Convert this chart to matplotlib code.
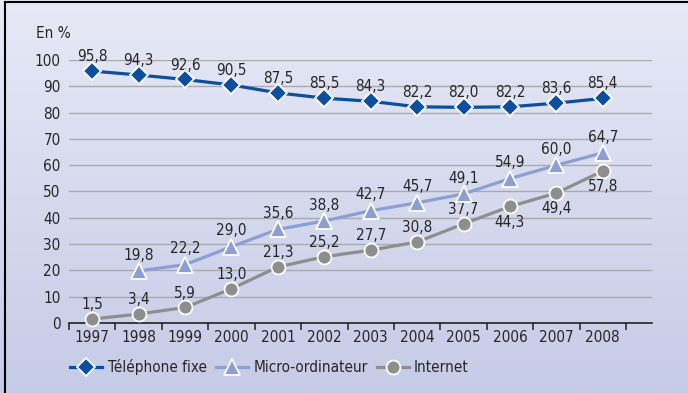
import numpy as np
import matplotlib
matplotlib.use('Agg')
import matplotlib.pyplot as plt
from matplotlib.lines import Line2D

plt.rcParams['font.family'] = ['DejaVu Sans']
plt.rcParams['font.stretch'] = 'condensed'

years = ['1997', '1998', '1999', '2000', '2001', '2002', '2003', '2004',
         '2005', '2006', '2007', '2008']
telephone = [95.8, 94.3, 92.6, 90.5, 87.5, 85.5, 84.3, 82.2, 82.0, 82.2, 83.6, 85.4]
micro_years = years[1:]
micro = [19.8, 22.2, 29.0, 35.6, 38.8, 42.7, 45.7, 49.1, 54.9, 60.0, 64.7]
internet = [1.5, 3.4, 5.9, 13.0, 21.3, 25.2, 27.7, 30.8, 37.7, 44.3, 49.4, 57.8]
# internet labels sit below the marker from 2006 on
internet_below = [False]*9 + [True]*3

c_tel, c_micro, c_net = '#0d4f9c', '#8c9fd5', '#8e8e8e'
c_txt = '#262626'
fs = 11

fig = plt.figure(figsize=(6.88, 3.93), dpi=100)

# vertical gradient background
bg = fig.add_axes([0, 0, 1, 1], zorder=-10)
top = np.array([231, 233, 246]) / 255.
bot = np.array([198, 203, 231]) / 255.
t = np.linspace(0, 1, 256)[:, None, None]
grad = top*(1-t) + bot*t
bg.imshow(np.repeat(grad, 2, axis=1), aspect='auto', extent=[0, 1, 0, 1])
bg.axis('off')
fig.add_artist(Line2D([5/688, 5/688], [0, 1-2/393], color='black', lw=1.5))
fig.add_artist(Line2D([5/688, 1], [1-2/393, 1-2/393], color='black', lw=1.5))

ax = fig.add_axes([69/688, 1-323/393, (652-69)/688, (323-60)/393])
ax.patch.set_visible(False)
x = np.arange(len(years))
xm = x[1:]

ax.set_xlim(-0.5, 12.06)
ax.set_ylim(0, 100)
for v in range(10, 101, 10):
    ax.axhline(v, color='#a9a9b0', lw=1.0, zorder=1)

ax.plot(x, telephone, color=c_tel, lw=2.3, marker='D', ms=9,
        mfc=c_tel, mec='white', mew=1.3, zorder=5, clip_on=False,
        label='Téléphone fixe')
ax.plot(xm, micro, color=c_micro, lw=2.3, marker='^', ms=11,
        mfc=c_micro, mec='white', mew=1.3, zorder=4, clip_on=False,
        label='Micro-ordinateur')
ax.plot(x, internet, color=c_net, lw=2.3, marker='o', ms=10,
        mfc=c_net, mec='white', mew=1.3, zorder=4, clip_on=False,
        label='Internet')

def fmt(v):
    return ('%.1f' % v).replace('.', ',')

for xi, v in zip(x, telephone):
    ax.annotate(fmt(v), (xi, v), xytext=(0, 5), textcoords='offset points',
                ha='center', va='bottom', fontsize=fs, color=c_txt)
for xi, v in zip(xm, micro):
    ax.annotate(fmt(v), (xi, v), xytext=(0, 6), textcoords='offset points',
                ha='center', va='bottom', fontsize=fs, color=c_txt)
for xi, v, below in zip(x, internet, internet_below):
    off = -6 if below else 5
    ax.annotate(fmt(v), (xi, v), xytext=(0, off), textcoords='offset points',
                ha='center', va='top' if below else 'bottom',
                fontsize=fs, color=c_txt)

for s in ['top', 'right', 'left']:
    ax.spines[s].set_visible(False)
ax.spines['bottom'].set_color('#222222')
ax.spines['bottom'].set_linewidth(1.2)

ax.set_yticks(range(0, 101, 10))
ax.set_yticklabels([str(v) for v in range(0, 101, 10)], fontsize=fs)
ax.tick_params(axis='y', length=0, pad=6, colors=c_txt)

ax.set_xticks(np.arange(-0.5, 12, 1))
ax.set_xticklabels([])
ax.set_xticks(x, minor=True)
ax.set_xticklabels(years, minor=True, fontsize=fs)
ax.tick_params(axis='x', which='major', direction='out', length=5,
               width=1.1, colors='#222222')
ax.tick_params(axis='x', which='minor', length=0, pad=5, colors=c_txt)

fig.text(36/688, 1-33/393, 'En %', fontsize=fs, va='center', ha='left',
         color=c_txt)

leg = fig.legend(loc='center left', bbox_to_anchor=(64/688, 1-367/393), ncol=3,
                 frameon=False, fontsize=fs, handlelength=2.1,
                 handletextpad=0.35, columnspacing=0.6, borderaxespad=0)
for txt in leg.get_texts():
    txt.set_color(c_txt)

fig.savefig('out.png', dpi=100)
